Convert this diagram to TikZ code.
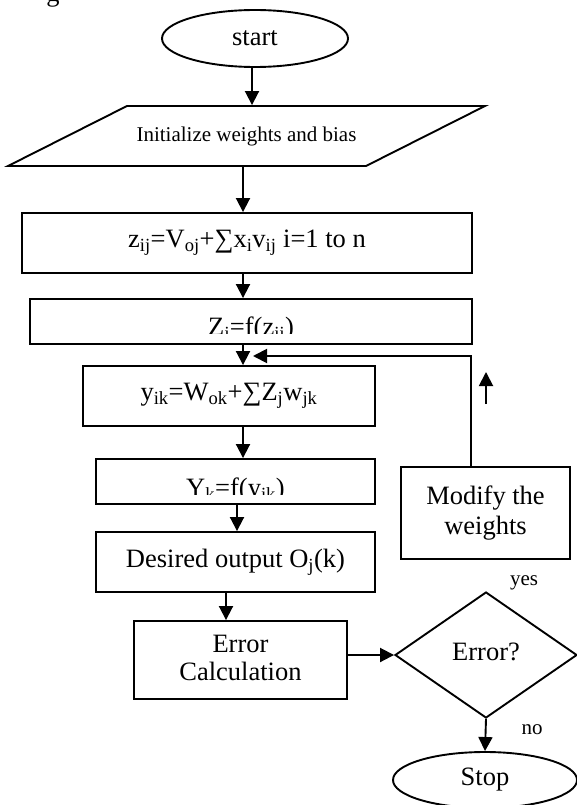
\documentclass[tikz,border=0pt]{standalone}
\usepackage{fontspec}
\setmainfont{Liberation Serif}
\usetikzlibrary{arrows.meta,shapes.geometric}

\newcommand\bigtext{\fontsize{26.5}{30}\selectfont}
\newcommand\smalltext{\fontsize{21}{25}\selectfont}

\begin{document}
\begin{tikzpicture}[x=1pt,y=-1pt,
  line width=1.9pt,
  box/.style={draw, rectangle, inner sep=0pt, font=\bigtext, align=center},
  oval/.style={draw, ellipse, inner sep=0pt, font=\bigtext},
  arr/.style={-{Triangle[length=14pt,width=14pt]}},
  lbl/.style={font=\smalltext, inner sep=0pt}]

% canvas
\fill[white] (0,0) rectangle (577,805);
\useasboundingbox (0,0) rectangle (577,805);

% tail of the caption line above the chart
\node[font=\bigtext, anchor=base, inner sep=0pt] (capfrag) at (53,2) {g};

% terminals
\node[oval, minimum width=186pt, minimum height=57pt] (start) at (255,38.5) {\raisebox{-3pt}{start}};
\node[oval, minimum width=184pt, minimum height=56pt] (stop) at (485,780) {\raisebox{-6pt}{Stop}};

% input parallelogram
\node[font=\smalltext, inner sep=0pt, minimum width=358pt, minimum height=60pt] (init) at (246.5,136) {\raisebox{-2pt}{Initialize weights and bias}};
\draw (127,106) -- (485,106) -- (366,166) -- (8,166) -- cycle;

% process boxes
\node[box, minimum width=450pt, minimum height=60pt] (box1) at (247,243)
  {z\textsubscript{ij}=V\textsubscript{oj}+∑x\textsubscript{i}v\textsubscript{ij} i=1 to n};
\node[box, minimum width=442pt, minimum height=45pt] (box2) at (251,321.5) {};
\node[box, minimum width=292pt, minimum height=60pt] (box3) at (229,396)
  {y\textsubscript{ik}=W\textsubscript{ok}+∑Z\textsubscript{j}w\textsubscript{jk}};
\node[box, minimum width=279pt, minimum height=45pt] (box4) at (235.5,481.5) {};
\node[box, minimum width=279pt, minimum height=60pt] (box5) at (235.5,562)
  {Desired output O\textsubscript{j}(k)};
\node[box, minimum width=213pt, minimum height=78pt] (box6) at (240.5,660)
  {\raisebox{-4pt}{\begin{tabular}{@{}c@{}}Error\\[-2pt]Calculation\end{tabular}}};
\node[box, minimum width=169pt, minimum height=92pt] (modify) at (485.5,513)
  {Modify the\\weights};

% decision
\node[draw, diamond, minimum width=182pt, minimum height=126pt, inner sep=0pt,
  font=\bigtext] (dec) at (486,655) {\raisebox{7pt}{Error?}};
\node[lbl] (yes) at (524,583) {yes};
\node[lbl] (no) at (532,730) {no};

% text lines cut off at the lower part of their boxes
\coordinate (cut2) at (0,333);
\coordinate (base2) at (0,335.5);
\begin{scope}
  \clip (box2.north west) rectangle (box2.east |- cut2);
  \node[font=\bigtext, anchor=base, inner sep=0pt] (t2) at (box2.center |- base2)
    {Z\textsubscript{j}=f(z\textsubscript{ij})};
\end{scope}
\coordinate (cut4) at (0,494);
\coordinate (base4) at (0,496.5);
\begin{scope}
  \clip (box4.north west) rectangle (box4.east |- cut4);
  \node[font=\bigtext, anchor=base, inner sep=0pt] (t4) at (box4.center |- base4)
    {Y\textsubscript{k}=f(y\textsubscript{ik})};
\end{scope}

% connector columns
\coordinate (spine) at (243,0);
\coordinate (col4) at (237,0);
\coordinate (col5) at (226,0);
\coordinate (col0) at (252,0);

\draw[arr] (start.south -| col0) -- (init.north -| col0);
\draw[arr] (init.south -| spine) -- (box1.north -| spine);
\draw[arr] (box1.south -| spine) -- (box2.north -| spine);
\draw[arr] (box2.south -| spine) -- (box3.north -| spine);
\draw[arr] (box3.south -| spine) -- (box4.north -| spine);
\draw[arr] (box4.south -| col4) -- (box5.north -| col4);
\draw[arr] (box5.south -| col5) -- (box6.north -| col5);
\draw[arr] (box6.east |- dec.west) -- (dec.west);
\draw[arr] (dec.south) -- (stop.north);

% feedback loop
\coordinate (fbtop) at (471,356);
\coordinate (fbtip) at (253,356);
\draw[arr] (modify.north -| fbtop) -- (fbtop) -- (fbtip);
\coordinate (upfoot) at (486,404);
\coordinate (uphead) at (486,372);
\draw[arr] (upfoot) -- (uphead);

\end{tikzpicture}
\end{document}
